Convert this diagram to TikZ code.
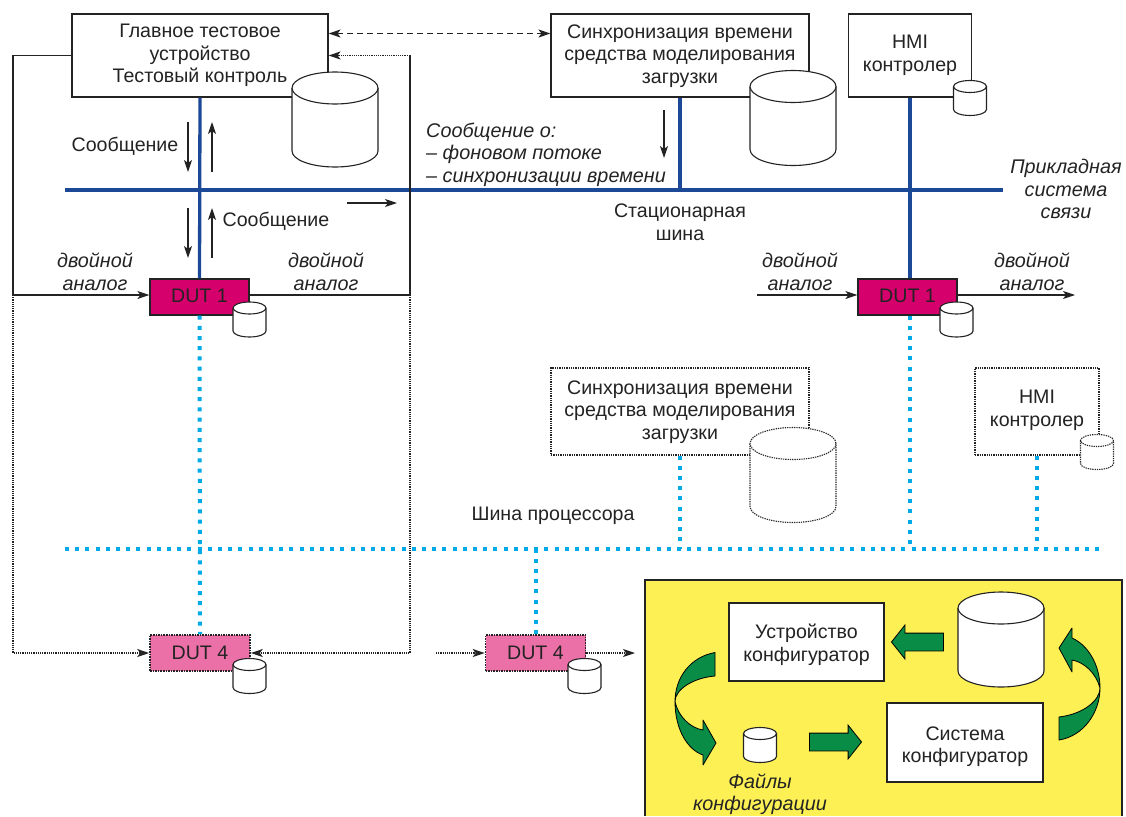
\documentclass[tikz,border=0pt]{standalone}
\usepackage{fontspec}
\setmainfont{Liberation Sans}
\usepackage{tikz}
\usetikzlibrary{positioning, arrows.meta, shapes.arrows}

\definecolor{busblue}{RGB}{28,72,152}
\definecolor{buscyan}{RGB}{0,170,230}
\definecolor{dutred}{RGB}{214,0,108}
\definecolor{dutpink}{RGB}{236,112,168}
\definecolor{confyellow}{RGB}{253,240,85}
\definecolor{arrowgreen}{RGB}{8,140,70}
\definecolor{inkgray}{RGB}{35,35,35}

\begin{document}
\begin{tikzpicture}[
    x=1pt, y=-1pt,
    >={Stealth[length=12pt,width=8pt,inset=3pt]},
    every node/.style={font=\fontsize{19.6}{22.5}\selectfont, text=inkgray, align=center, inner sep=0pt},
    sysbox/.style={
        rectangle, draw=inkgray, line width=1.1pt, fill=white
    },
    ghostbox/.style={
        rectangle, draw=inkgray, line width=1.3pt, densely dotted, fill=white
    },
    dutbox/.style={
        rectangle, draw=inkgray, line width=1.2pt, fill=dutred,
        minimum width=99pt, minimum height=36pt
    },
    ghostdut/.style={
        rectangle, draw=inkgray, line width=1.6pt, densely dotted, fill=dutpink,
        minimum width=100pt, minimum height=36pt
    },
    pics/dbdisk/.style n args={3}{code={
        \draw[draw=inkgray, line width=1.1pt, fill=white, pic actions] (-#1,-#2) -- (-#1,#2)
            arc[start angle=180, end angle=0, x radius=#1, y radius=#3] -- (#1,-#2);
        \draw[draw=inkgray, line width=1.1pt, fill=white, pic actions] (0,-#2) ellipse[x radius=#1, y radius=#3];
    }},
    pics/bigdisk/.style={dbdisk={43}{31.5}{16}},
    pics/smalldisk/.style={dbdisk={16.5}{11.5}{6}},
    ghostdisk/.style={densely dotted, line width=1.3pt},
    wire/.style={draw=inkgray, line width=1.2pt},
    dotwire/.style={wire, densely dotted},
    statbus/.style={draw=busblue, line width=3.3pt},
    procbus/.style={draw=buscyan, line width=4pt, dash pattern=on 4pt off 6.2pt},
    flatarrow/.style={
        single arrow, draw=black, line width=0.8pt, fill=arrowgreen,
        single arrow head extend=8pt, single arrow tip angle=103, inner sep=8.5pt
    },
    curlarrow/.style={draw=black, line width=0.8pt, fill=arrowgreen, line join=round},
    note/.style={font=\fontsize{19.8}{22.5}\selectfont\itshape}
]

\useasboundingbox (0,0) rectangle (1126,816);

\draw[fill=confyellow, draw=inkgray, line width=1.2pt] (645,816) -- (645,580) -- (1122,580) -- (1122,816);

\coordinate (statL) at (65,190);
\coordinate (statR) at (1003,190);
\coordinate (procL) at (65,549);
\coordinate (procR) at (1100,549);
\coordinate (wireL) at (13,295);
\coordinate (wireR) at (410,295);
\coordinate (dotL) at (13,653);
\coordinate (dotR) at (410,653);
\coordinate (inB) at (757,295);
\coordinate (outB) at (1075,295);
\coordinate (inD) at (436,653);
\coordinate (outD) at (635,653);

\node[sysbox, minimum width=256pt, minimum height=83pt] (main) at (200,55.5) {};
\node[sysbox, minimum width=258pt, minimum height=83pt] (sync) at (680,55.5) {};
\node[sysbox, minimum width=123pt, minimum height=83pt] (hmi) at (910,55.5) {};
\node[ghostbox, minimum width=258pt, minimum height=87pt] (syncB) at (680,411.5) {};
\node[ghostbox, minimum width=124pt, minimum height=87pt] (hmiB) at (1037,411.5) {};

\node[dutbox] (dutA) at (199.5,297) {};
\node[dutbox] (dutB) at (907.5,297) {};
\node[ghostdut] (dutC) at (200,653) {};
\node[ghostdut] (dutD) at (535.5,653) {};

\draw[statbus] (statL) -- (statR);
\draw[statbus] (main.south) -- (dutA.north);
\draw[statbus] (sync.south) -- (sync.south |- statL);
\draw[statbus] (hmi.south) -- (hmi.south |- dutB.north);

\draw[procbus] (procL) -- (procR);
\draw[procbus] (dutA.south) -- (dutC.north);
\draw[procbus] (dutB.south -| hmi.south) -- (hmi.south |- procL);
\draw[procbus] (syncB.south) -- (syncB.south |- procL);
\draw[procbus] (hmiB.south) -- (hmiB.south |- procL);
\draw[procbus] (dutD.north) -- (dutD.north |- procL);

\draw[wire, ->] (main.west) -| (wireL) -- (wireL -| dutA.west);
\draw[wire] (wireL -| dutA.east) -- (wireR) -- (wireR |- main.east);
\draw[dotwire, ->] (wireR |- main.east) -- (main.east);
\draw[wire, dash pattern=on 6pt off 4pt, <->] ([yshift=22pt]main.east) -- ([yshift=22pt]sync.west);
\draw[dotwire, ->] (wireL) -- (dotL) -- (dutC.west);
\draw[dotwire, ->] (wireR) -- (dotR) -- (dutC.east);
\draw[dotwire, ->] (inD) -- (dutD.west);
\draw[dotwire, ->] (dutD.east) -- (outD);
\draw[wire, ->] (inB) -- (inB -| dutB.west);
\draw[wire, ->] (outB -| dutB.east) -- (outB);

\coordinate (msgA) at (188,122);
\coordinate (msgB) at (212,172);
\coordinate (msgC) at (188,208);
\coordinate (msgD) at (212,258);
\coordinate (msgE) at (347,203);
\coordinate (msgF) at (664,110);
\draw[wire, ->] (msgA) -- ++(0,50);
\draw[wire, ->] (msgB) -- ++(0,-50);
\draw[wire, ->] (msgC) -- ++(0,50);
\draw[wire, ->] (msgD) -- ++(0,-50);
\draw[wire, ->] (msgE) -- ++(50,0);
\draw[wire, ->] (msgF) -- ++(0,48);

\node (mainT) at (200,55.5) {Главное тестовое\\устройство\\Тестовый контроль};
\node (syncT) at (680,56) {Синхронизация времени\\средства моделирования\\загрузки};
\node (hmiT) at (910,55.5) {HMI\\контролер};
\node (syncBT) at (680,412) {Синхронизация времени\\средства моделирования\\загрузки};
\node (hmiBT) at (1037,410.5) {HMI\\контролер};
\node (dutAT) at (199.5,296) {DUT 1};
\node (dutBT) at (907.5,296) {DUT 1};
\node (dutCT) at (200,653) {DUT 4};
\node (dutDT) at (535.5,653) {DUT 4};

\pic (mainDb) at (335,119.5) {bigdisk};
\pic (syncDb) at (793,118) {bigdisk};
\pic[ghostdisk] (syncBDb) at (793,475) {bigdisk};
\pic (confDb) at (1001,639.5) {bigdisk};
\pic (hmiDb) at (970,98) {smalldisk};
\pic[ghostdisk] (hmiBDb) at (1097,452) {smalldisk};
\pic (dutADb) at (249.5,319.5) {smalldisk};
\pic (dutBDb) at (956.5,319.5) {smalldisk};
\pic (dutCDb) at (249.5,676) {smalldisk};
\pic (dutDDb) at (584.5,676) {smalldisk};
\pic (confFile) at (760,745) {smalldisk};

\node (msgTa) at (125,146) {Сообщение};
\node (msgTb) at (276,221) {Сообщение};
\node[note, anchor=north west, align=left] (msgTc) at (426,122.5) {Сообщение о:\\– фоновом потоке\\– синхронизации времени};
\node (statT) at (680,222) {Стационарная\\шина};
\node[note] (appT) at (1066,189) {Прикладная\\система\\связи};
\node[note] (dblA) at (95,272) {двойной\\аналог};
\node[note] (dblB) at (326,272) {двойной\\аналог};
\node[note] (dblC) at (800,272) {двойной\\аналог};
\node[note] (dblD) at (1032,272) {двойной\\аналог};
\node (procT) at (553,516) {Шина процессора};

\node[sysbox, minimum width=155pt, minimum height=78pt] (cfgDev) at (806.5,642) {};
\node[sysbox, minimum width=156pt, minimum height=79pt] (cfgSys) at (965,742.5) {};
\node (cfgDevT) at (806.5,645) {Устройство\\конфигуратор};
\node (cfgSysT) at (965,746.5) {Система\\конфигуратор};
\node[note] (cfgFiles) at (760,794) {Файлы\\конфигурации};

\node[flatarrow, shape border rotate=180, minimum height=52pt, minimum width=33pt] (arrDev) at (921,642) {};
\node[flatarrow, minimum height=52pt, minimum width=33pt] (arrSys) at (832,742) {};

\path[curlarrow] (715,652.5) .. controls (690,657) and (675,678) .. (675,701.5)
    .. controls (675,690) and (692,678) .. (715,676) -- cycle;
\path[curlarrow] (675,701.5) .. controls (675,730) and (688,750) .. (703,755)
    -- (703,765) -- (716,743) -- (703,720) -- (703,730)
    .. controls (690,728) and (678,716) .. (675,701.5) -- cycle;
\path[curlarrow] (1059,740) .. controls (1084,736) and (1100,712) .. (1100,688)
    .. controls (1100,700) and (1084,714) .. (1059,717) -- cycle;
\path[curlarrow] (1100,688) .. controls (1100,665) and (1088,645) .. (1072,638)
    -- (1072,628) -- (1059,648) -- (1072,672) -- (1072,660)
    .. controls (1084,662) and (1096,673) .. (1100,688) -- cycle;

\end{tikzpicture}
\end{document}
